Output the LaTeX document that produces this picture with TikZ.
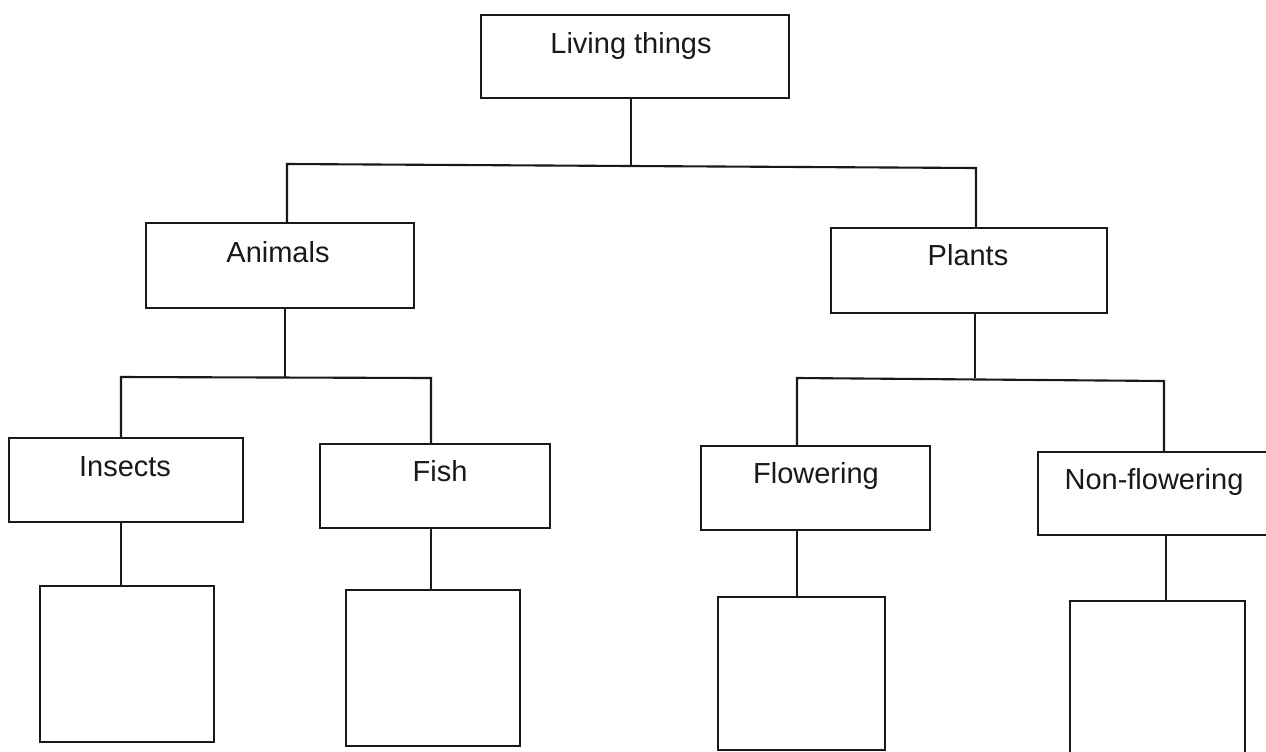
\documentclass[tikz,border=0pt]{standalone}
\usepackage{fontspec}
\setmainfont{Liberation Sans}
\begin{document}
\begin{tikzpicture}[x=0.02cm,y=-0.02cm,
  bx/.style 2 args={draw=black!90, line width=1.2pt, inner sep=0pt,
    minimum width=#1*0.02cm, minimum height=#2*0.02cm},
  lbl/.style={anchor=base, inner sep=0pt, font=\fontsize{16.5}{20}\selectfont, text=black!90},
  ln/.style={draw=black!90, line width=1.2pt}]
\useasboundingbox (0,0) rectangle (1266,751);
\fill[white] (0,0) rectangle (1266,751);
\clip (0,0) rectangle (1266,751);
% boxes
\node[bx={308}{83}] (liv) at (635,56.5) {};
\node[bx={268}{85}] (ani) at (280,265.5) {};
\node[bx={276}{85}] (pla) at (969,270.5) {};
\node[bx={234}{84}] (ins) at (126,480) {};
\node[bx={230}{84}] (fis) at (435,486) {};
\node[bx={229}{84}] (flo) at (815.5,488) {};
\node[bx={252}{83}] (non) at (1164,493.5) {};
\node[bx={174}{156}] (e1) at (127,664) {};
\node[bx={174}{156}] (e2) at (433,668) {};
\node[bx={167}{153}] (e3) at (801.5,673.5) {};
\node[bx={175}{169}] (e4) at (1157.5,685.5) {};
% labels
\node[lbl] (livt) at (631,53) {Living things};
\node[lbl] (anit) at (278,262) {Animals};
\node[lbl] (plat) at (968,265) {Plants};
\node[lbl] (inst) at (125,476) {Insects};
\node[lbl] (fist) at (440,481) {Fish};
\node[lbl] (flot) at (816,483) {Flowering};
\node[lbl] (nont) at (1154,489) {Non-flowering};
% junction points
\coordinate (j1) at (631,165);
\coordinate (j1l) at (287,164);
\coordinate (j1r) at (976,168);
\coordinate (j2) at (285,377);
\coordinate (j2l) at (121,377);
\coordinate (j2r) at (431,378);
\coordinate (j3) at (975,378);
\coordinate (j3l) at (797,378);
\coordinate (j3r) at (1164,381);
% connectors
\draw[ln] (j1 |- liv.south) -- (j1);
\draw[ln] (j1l |- ani.north) -- (j1l) -- (j1r) -- (j1r |- pla.north);
\draw[ln] (j2 |- ani.south) -- (j2);
\draw[ln] (j2l |- ins.north) -- (j2l) -- (j2r) -- (j2r |- fis.north);
\draw[ln] (j3 |- pla.south) -- (j3);
\draw[ln] (j3l |- flo.north) -- (j3l) -- (j3r) -- (j3r |- non.north);
\draw[ln] (j2l |- ins.south) -- (j2l |- e1.north);
\draw[ln] (j2r |- fis.south) -- (j2r |- e2.north);
\draw[ln] (j3l |- flo.south) -- (j3l |- e3.north);
\draw[ln] (1166,0 |- non.south) -- (1166,0 |- e4.north);
\end{tikzpicture}
\end{document}
